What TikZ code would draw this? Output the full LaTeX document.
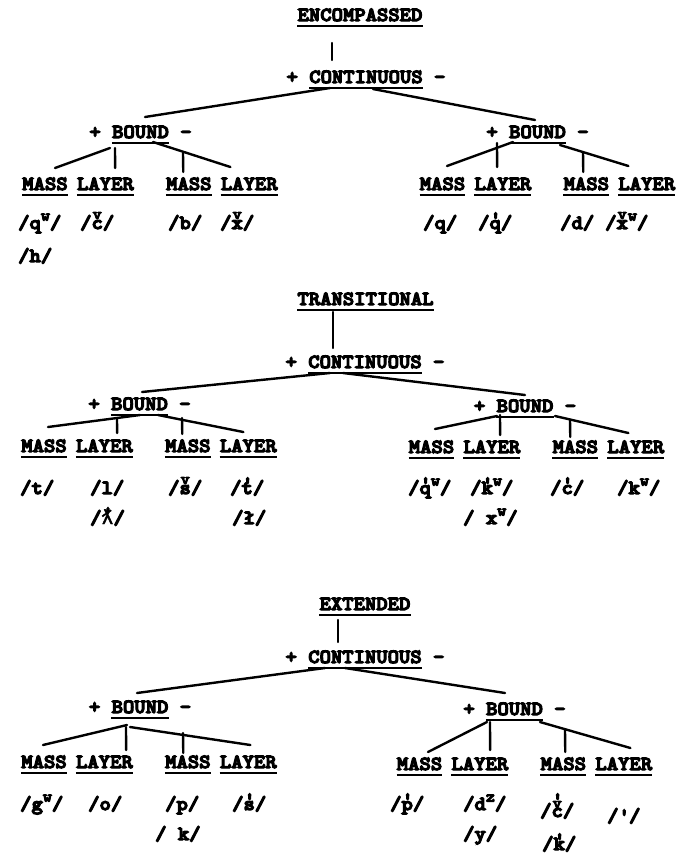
\documentclass[tikz,border=0pt]{standalone}
\usepackage{fontspec}
\newfontfamily\twfont{lmmonolt10-bold.otf}[FakeStretch=1.08, FakeBold=6]
\newfontfamily\lamfont{DejaVu Sans Mono}[FakeBold=2]
\usetikzlibrary{positioning}
\newcommand\tw{\twfont\fontsize{20}{22}\selectfont}
\newcommand\sm{\fontsize{16}{16}\selectfont}
% typed-over marks: glottal tick, caron, both; raised letters
\newcommand\gl[1]{\ooalign{#1\cr\hidewidth\raisebox{.2em}{\textquotesingle}\hidewidth\cr}}
\newcommand\hc[1]{\ooalign{#1\cr\hidewidth\raisebox{.5em}{\sm v}\hidewidth\cr}}
\newcommand\hg[1]{\ooalign{#1\cr\hidewidth\raisebox{.45em}{\sm v}\hidewidth\cr\hidewidth\raisebox{.55em}{\textquotesingle}\hidewidth\cr}}
\newcommand\up[1]{\raisebox{.42em}{\sm #1}}
\tikzset{
  uline/.style={line width=2.4pt},
  cat/.style={inner sep=0pt, anchor=base, font=\tw,
    append after command={([yshift=-5pt]\tikzlastnode.base west) edge[uline]
                          ([yshift=-5pt]\tikzlastnode.base east)}},
  sgn/.style={inner sep=0pt, font=\tw},
  phon/.style={inner sep=0pt, anchor=base west, font=\tw},
  br/.style={line width=2.4pt, line cap=round},
}

\begin{document}
\begin{tikzpicture}[x=1pt, y=-1pt, node distance=9pt]
  \path[fill=white] (0,0) rectangle (679,855);
  % ---- encompassed
  \node[cat] (e1) at (360,21) {ENCOMPASSED};
  \node[cat] (c1) at (366,83) {CONTINUOUS};
  \node[cat] (bl1) at (140.5,138) {BOUND};
  \node[cat] (br1) at (537.5,138) {BOUND};
  \node[cat] (m11) at (45,190) {MASS};
  \node[cat, right=of m11] (l11) {LAYER};
  \node[cat, right=32pt of l11] (m12) {MASS};
  \node[cat, right=of m12] (l12) {LAYER};
  \node[cat] (m13) at (442.5,190) {MASS};
  \node[cat, right=of m13] (l13) {LAYER};
  \node[cat, right=32pt of l13] (m14) {MASS};
  \node[cat, right=of m14] (l14) {LAYER};
  \draw[br] ([shift={(-28,22)}]e1.base) -- ([shift={(-34,-23)}]c1.base);
  \draw[br] ([shift={(-36,5)}]c1.base) -- ([shift={(4.5,-21)}]bl1.base);
  \draw[br] ([shift={(7,6)}]c1.base) -- ([shift={(-2.5,-18)}]br1.base);
  \draw[br] ([shift={(-30.5,10)}]bl1.base) -- ([shift={(10,-22)}]m11.base);
  \draw[br] ([shift={(-25.5,10)}]bl1.base) -- ([shift={(9.7,-22)}]l11.base);
  \draw[br] ([shift={(12.5,4)}]bl1.base) -- ([shift={(-18.9,-23)}]l12.base);
  \draw[br] ([shift={(42.5,15)}]bl1.base) -- ([shift={(-5.6,-18)}]m12.base);
  \draw[br] ([shift={(-24.5,4)}]br1.base) -- ([shift={(4.5,-24)}]m13.base);
  \draw[br] ([shift={(-40.5,5)}]br1.base) -- ([shift={(-5.8,-23)}]l13.base);
  \draw[br] ([shift={(22.5,7)}]br1.base) -- ([shift={(-18.4,-24)}]l14.base);
  \draw[br] ([shift={(45.5,14)}]br1.base) -- ([shift={(-3.1,-18)}]m14.base);
  \node[phon] (p11) at (18,229) {/q\up{w}/};
  \node[phon] (p11b) at (18,262) {/h/};
  \node[phon] (p12) at (80,229) {/\hc{c}/};
  \node[phon] (p13) at (168,229) {/b/};
  \node[phon] (p14) at (220,229) {/\hc{x}/};
  \node[phon] (p15) at (423,229) {/q/};
  \node[phon] (p16) at (478,229) {/\gl{q}/};
  \node[phon] (p17) at (560,229) {/d/};
  \node[phon] (p18) at (605,229) {/\hc{x}\up{w}/};

  % ---- transitional
  \node[cat] (e2) at (365.5,305) {TRANSITIONAL};
  \node[cat] (c2) at (365,368) {CONTINUOUS};
  \node[cat] (bl2) at (139.5,410) {BOUND};
  \node[cat] (br2) at (525,412) {BOUND};
  \node[cat] (m21) at (44,452) {MASS};
  \node[cat, right=of m21] (l21) {LAYER};
  \node[cat, right=32pt of l21] (m22) {MASS};
  \node[cat, right=of m22] (l22) {LAYER};
  \node[cat] (m23) at (431.5,453) {MASS};
  \node[cat, right=of m23] (l23) {LAYER};
  \node[cat, right=32pt of l23] (m24) {MASS};
  \node[cat, right=of m24] (l24) {LAYER};
  \draw[br] ([shift={(-32.5,7)}]e2.base) -- ([shift={(-32,-20)}]c2.base);
  \draw[br] ([shift={(-35,5)}]c2.base) -- ([shift={(2.5,-18)}]bl2.base);
  \draw[br] ([shift={(-22,5)}]c2.base) -- ([shift={(0,-17)}]br2.base);
  \draw[br] ([shift={(0.5,5)}]bl2.base) -- ([shift={(4,-25)}]m21.base);
  \draw[br] ([shift={(-22.5,8)}]bl2.base) -- ([shift={(12.7,-19)}]l21.base);
  \draw[br] ([shift={(18.5,5)}]bl2.base) -- ([shift={(-4.9,-20)}]l22.base);
  \draw[br] ([shift={(42.5,8)}]bl2.base) -- ([shift={(-5.6,-18)}]m22.base);
  \draw[br] ([shift={(-28,4)}]br2.base) -- ([shift={(3.5,-24)}]m23.base);
  \draw[br] ([shift={(-25,3)}]br2.base) -- ([shift={(8.2,-18)}]l23.base);
  \draw[br] ([shift={(30,4)}]br2.base) -- ([shift={(-7.4,-20)}]l24.base);
  \draw[br] ([shift={(45,8)}]br2.base) -- ([shift={(-5.1,-16)}]m24.base);
  \node[phon] (p21) at (20,494) {/t/};
  \node[phon] (p22) at (90,494) {/l/};
  \node[phon] (p22b) at (90,524) {/\gl{{\lamfont ƛ}}/};
  \node[phon] (p23) at (168,494) {/\hc{s}/};
  \node[phon] (p24) at (230,494) {/\gl{t}/};
  \node[phon] (p24b) at (232,524) {/ł/};
  \node[phon] (p25) at (408,494) {/\gl{q}\up{w}/};
  \node[phon] (p26) at (470,494) {/\gl{k}\up{w}/};
  \node[phon] (p26b) at (463,524) {/ x\up{w}/};
  \node[phon] (p27) at (550,494) {/\gl{c}/};
  \node[phon] (p28) at (617,494) {/k\up{w}/};

  % ---- extended
  \node[cat] (e3) at (365,610) {EXTENDED};
  \node[cat] (c3) at (365,663) {CONTINUOUS};
  \node[cat] (bl3) at (140,713) {BOUND};
  \node[cat] (br3) at (514.5,715) {BOUND};
  \node[cat] (m31) at (44,768) {MASS};
  \node[cat, right=of m31] (l31) {LAYER};
  \node[cat, right=32pt of l31] (m32) {MASS};
  \node[cat, right=of m32] (l32) {LAYER};
  \node[cat] (m33) at (419.5,770) {MASS};
  \node[cat, right=of m33] (l33) {LAYER};
  \node[cat, right=32pt of l33] (m34) {MASS};
  \node[cat, right=of m34] (l34) {LAYER};
  \draw[br] ([shift={(-27,10)}]e3.base) -- ([shift={(-27,-21)}]c3.base);
  \draw[br] ([shift={(-40,5)}]c3.base) -- ([shift={(-3,-20)}]bl3.base);
  \draw[br] ([shift={(-20,5)}]c3.base) -- ([shift={(-9.5,-22)}]br3.base);
  \draw[br] ([shift={(-13,12)}]bl3.base) -- ([shift={(-1,-23)}]m31.base);
  \draw[br] ([shift={(-14,14)}]bl3.base) -- ([shift={(21.7,-18)}]l31.base);
  \draw[br] ([shift={(-10,14)}]bl3.base) -- ([shift={(2.1,-23)}]l32.base);
  \draw[br] ([shift={(43,20)}]bl3.base) -- ([shift={(-4.6,-15)}]m32.base);
  \draw[br] ([shift={(-27.5,7)}]br3.base) -- ([shift={(8.5,-18)}]m33.base);
  \draw[br] ([shift={(-24.5,7)}]br3.base) -- ([shift={(10.2,-20)}]l33.base);
  \draw[br] ([shift={(25.5,7)}]br3.base) -- ([shift={(6.6,-22)}]l34.base);
  \draw[br] ([shift={(50.5,15)}]br3.base) -- ([shift={(1.9,-18)}]m34.base);
  \node[phon] (p31) at (20,810) {/g\up{w}/};
  \node[phon] (p32) at (88,810) {/o/};
  \node[phon] (p33) at (165,810) {/p/};
  \node[phon] (p33b) at (155,840) {/ k/};
  \node[phon] (p34) at (232,810) {/\gl{s}/};
  \node[phon] (p35) at (390,810) {/\gl{p}/};
  \node[phon] (p36) at (463,810) {/d\up{z}/};
  \node[phon] (p36b) at (463,840) {/y/};
  \node[phon] (p37) at (540,817) {/\hg{c}/};
  \node[phon] (p37b) at (542,850) {/\gl{k}/};
  \node[phon] (p38) at (607,822) {/\textquotesingle/};

  % plus and minus round each feature
  \foreach \n in {c1,bl1,br1,c2,bl2,br2,c3,bl3,br3} {
    \node[sgn, left=11pt of \n.base west, anchor=base east] (\n p) {+};
    \node[sgn, right=11pt of \n.base east, anchor=base west] (\n m) {-};
  }
\end{tikzpicture}
\end{document}
